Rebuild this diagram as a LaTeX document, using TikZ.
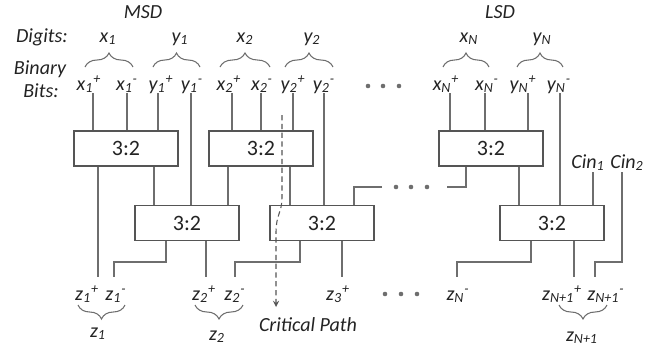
\documentclass[tikz,border=0pt]{standalone}
\usepackage{fontspec}
\setmainfont{Carlito}
\usepackage{tikz}
\usetikzlibrary{arrows,decorations.pathreplacing,positioning}
\definecolor{dfline}{RGB}{110,110,110}
\definecolor{dfbox}{RGB}{85,85,85}
\definecolor{dftext}{RGB}{35,35,35}
\tikzstyle{adder} = [rectangle, minimum width=2.08cm, minimum height=0.7cm, inner sep=0pt, text centered, draw=dfbox, line width=0.9pt, fill=white, font=\fontsize{12.5}{14}\selectfont]
\tikzstyle{wire} = [draw=dfline, line width=0.6pt]
\tikzstyle{lbl} = [inner sep=0pt, anchor=base, font=\fontsize{11.4}{13}\selectfont\itshape]
\tikzstyle{brace} = [draw=dfline, line width=0.6pt, decorate, decoration={brace, amplitude=0.28cm}]
\tikzstyle{crit} = [draw=dfbox, line width=0.6pt, dash pattern=on 3pt off 2pt, ->, >=stealth]
\tikzstyle{dot} = [circle, fill=dfline, inner sep=0pt, minimum size=2.6pt]
\newcommand{\bitlab}[3]{#1\textsubscript{#2}\textsuperscript{#3}}

\begin{document}
\begin{tikzpicture}[x=0.02cm, y=-0.02cm, text=dftext]
\useasboundingbox (0,0) rectangle (665,352);

% Headings
\node (msd) [lbl] at (143,18) {MSD};
\node (lsd) [lbl] at (500,18) {LSD};
\node (digits) [lbl] at (42,42) {Digits:};
\node (binary) [lbl] at (40,74) {Binary};
\node (bits) [lbl] at (41,97) {Bits:};

% Input digits and their braces
\foreach \n/\cx/\v/\s/\a/\b in {dx1/108/x/1/85/133, dy1/180/y/1/153/200, dx2/245/x/2/220/270, dy2/312/y/2/285/333, dxN/469/x/N/443/489, dyN/542/y/N/517/563}{
  \node (\n) [lbl] at (\cx,42) {\v\textsubscript{\s}};
  \draw[brace] (\a,67) -- (\b,67);
}

% Input bits
\foreach \n/\px/\cx/\v/\s/\sg in {x1p/93/89/x/1/+, x1m/127/127/x/1/-, y1p/158/161/y/1/+, y1m/191/192/y/1/-, x2p/232/229/x/2/+, x2m/261/262/x/2/-, y2p/293/293/y/2/+, y2m/324/324/y/2/-, xNp/450/446/x/N/+, xNm/485/487/x/N/-, yNp/528/523/y/N/+, yNm/560/559/y/N/-}{
  \coordinate (\n) at (\px,93);
  \node (l\n) [lbl] at (\cx,90) {\bitlab{\v}{\s}{\sg}};
}
\foreach \d in {368,383,399} \node (tdot\d) [dot] at (\d,86) {};

% Carry inputs
\node (lcin1) [lbl] at (588,168) {Cin\textsubscript{1}};
\node (lcin2) [lbl] at (627,168) {Cin\textsubscript{2}};
\coordinate (cin1) at (593,172);
\coordinate (cin2) at (622,172);

% 3:2 counters
\node (b1) [adder] at (126,148.5) {3:2};
\node (b2) [adder] at (261,148.5) {3:2};
\node (b3) [adder] at (491,148.5) {3:2};
\node (b4) [adder] at (187,223) {3:2};
\node (b5) [adder] at (322,223) {3:2};
\node (b6) [adder] at (552,223) {3:2};

% Wires from the bits
\foreach \n/\b in {x1p/b1, x1m/b1, y1p/b1, x2p/b2, x2m/b2, y2p/b2, xNp/b3, xNm/b3, yNp/b3, y1m/b4, y2m/b5, yNm/b6, cin1/b6}
  \draw[wire] (\n) -- (\n |- \b.north);

% Wires between the rows
\draw[wire] (b1.south -| 154,0) -- (b4.north -| 154,0);
\draw[wire] (b2.south -| 228,0) -- (b4.north -| 228,0);
\draw[wire] (b2.south -| 290,0) -- (b5.north -| 290,0);
\draw[wire] (b3.south -| 519,0) -- (b6.north -| 519,0);
\draw[wire] (b3.south -| 466,0) |- (447,187);
\draw[wire] (382,187) -| (b5.north -| 354,0);
\foreach \d in {396,411,427} \node (mdot\d) [dot] at (\d,187) {};

% Outputs
\coordinate (jog) at (0,262);
\foreach \n/\px/\cx/\s/\sg in {z1p/98/87/1/+, z1m/114/116/1/-, z2p/206/204/2/+, z2m/235/235/2/-, z3p/342/338/3/+, zNm/457/458/N/-, zN1p/574/562/N+1/+, zN1m/595/606/N+1/-}{
  \coordinate (\n) at (\px,277);
  \node (l\n) [lbl] at (\cx,300) {\bitlab{z}{\s}{\sg}};
}
\draw[wire] (b1.south -| z1p) -- (z1p);
\draw[wire] (b4.south -| 166,0) |- (z1m |- jog) -- (z1m);
\draw[wire] (b4.south -| z2p) -- (z2p);
\draw[wire] (b5.south -| 300,0) |- (z2m |- jog) -- (z2m);
\draw[wire] (b5.south -| z3p) -- (z3p);
\draw[wire] (b6.south -| 531,0) |- (zNm |- jog) -- (zNm);
\draw[wire] (b6.south -| zN1p) -- (zN1p);
\draw[wire] (cin2) |- (zN1m |- jog) -- (zN1m);
\foreach \d in {385,401,417} \node (bdot\d) [dot] at (\d,294) {};

% Output digits
\draw[brace] (125,305) -- (78,305);
\draw[brace] (243,305) -- (195,305);
\draw[brace] (607,305) -- (559,305);
\node (dz1) [lbl] at (98,337) {z\textsubscript{1}};
\node (dz2) [lbl] at (217,340) {z\textsubscript{2}};
\node (dzN1) [lbl] at (582,341) {z\textsubscript{N+1}};

% Critical path
\coordinate (cp) at (282,115);
\coordinate (cpend) at (276,307);
\node (lcp) [lbl] at (308,331) {Critical Path};
\draw[crit] (cp) -- (282,198) .. controls (282,212) and (276,215) .. (276,232) -- (cpend);
\end{tikzpicture}
\end{document}
